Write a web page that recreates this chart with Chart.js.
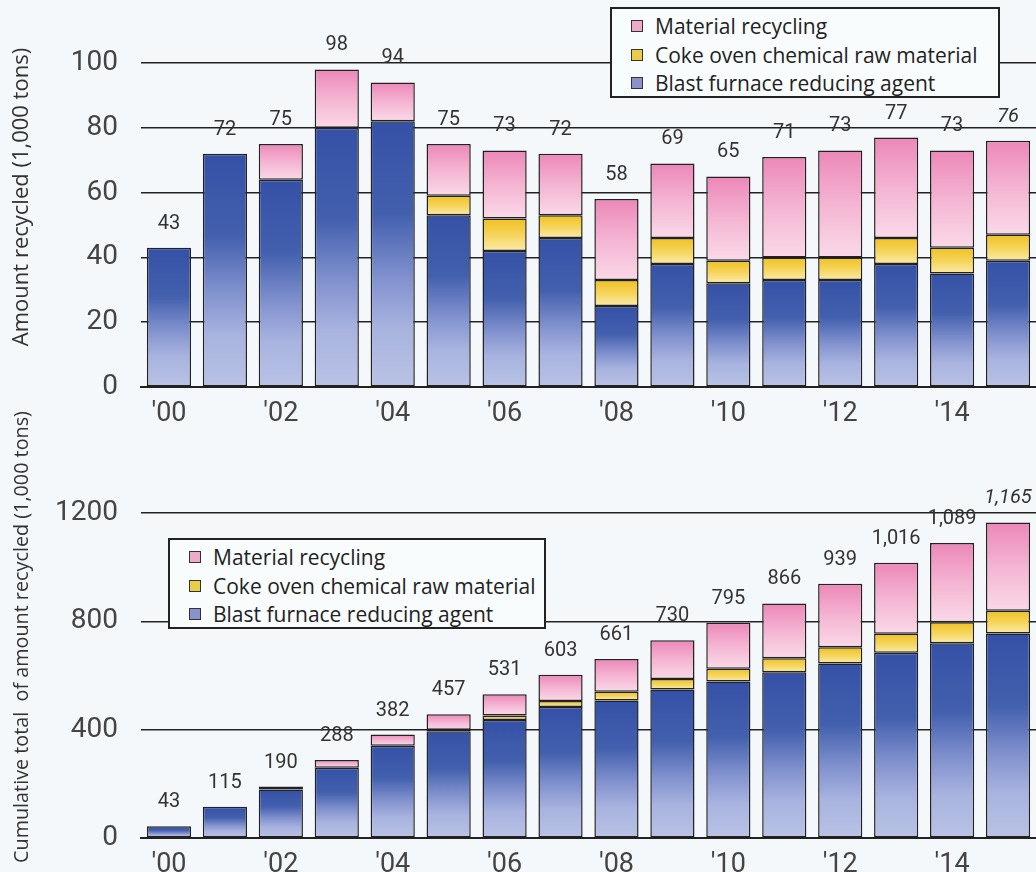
<!DOCTYPE html>
<html>
<head>
<meta charset="utf-8">
<script src="https://cdn.jsdelivr.net/npm/chart.js@4/dist/chart.umd.min.js"></script>
<style>
  body { margin: 0; background: #f4f8fb; width: 1036px; height: 872px; position: relative; overflow: hidden; }
  .wrap { position: absolute; left: 0; width: 1036px; }
  #topWrap { top: 0; height: 440px; }
  #botWrap { top: 400px; height: 479px; }
  .legend { position: absolute; z-index: 5; box-sizing: border-box; border: 2px solid #222; background: #f9fcfd;
            font-family: 'Open Sans', sans-serif; font-size: 21px; color: #222; padding-top: 3px; }
  .legend .row { height: 28.5px; display: flex; align-items: center; }
  .legend .box { width: 10px; height: 10px; border: 1.5px solid #333; margin-right: 12px; flex: none; }
</style>
</head>
<body>
<div class="wrap" id="botWrap"><canvas id="cumChart"></canvas></div>
<div class="wrap" id="topWrap"><canvas id="yearChart"></canvas></div>
<div class="legend" id="topLegend" style="left:610px;top:7px;width:390px;height:91px;padding-left:19px"></div>
<div class="legend" id="botLegend" style="left:168px;top:538px;width:378px;height:91px;padding-left:19px"></div>
<script>
// 年份
const years = ["'00", "'01", "'02", "'03", "'04", "'05", "'06", "'07", "'08", "'09", "'10", "'11", "'12", "'13", "'14", "'15"];

// 各年回收量 (1,000 t)
const blastYear    = [43, 72, 64, 80, 82, 53, 42, 46, 25, 38, 32, 33, 33, 38, 35, 39];
const cokeYear     = [0, 0, 0, 0, 0, 6, 10, 7, 8, 8, 7, 7, 7, 8, 8, 8];
const materialYear = [0, 0, 11, 18, 12, 16, 21, 19, 25, 23, 26, 31, 33, 31, 30, 29];
const yearTotals   = ['43', '72', '75', '98', '94', '75', '73', '72', '58', '69', '65', '71', '73', '77', '73', '76'];

// 累计回收量 (1,000 t)
const blastCum    = [43, 115, 179, 259, 341, 394, 436, 484, 508, 548, 578, 612, 644, 684, 719, 755];
const cokeCum     = [0, 0, 0, 0, 0, 6, 16, 22, 32, 39, 47, 52, 60, 70, 78, 84];
const materialCum = [0, 0, 11, 29, 41, 57, 79, 97, 121, 143, 170, 202, 235, 262, 292, 326];
const cumTotals   = ['43', '115', '190', '288', '382', '457', '531', '603', '661', '730', '795', '866', '939', '1,016', '1,089', '1,165'];

const seriesNames = ['Blast furnace reducing agent', 'Coke oven chemical raw material', 'Material recycling'];
const yearTitle = 'Amount recycled (1,000 tons)';
const cumTitle = 'Cumulative total  of amount recycled (1,000 tons)';

const blueStops   = [[0, '#3451a7'], [0.35, '#4360ae'], [0.6, '#8393cf'], [0.78, '#a8b3df'], [1, '#b9c3e6']];
const yellowStops = [[0, '#f1c020'], [0.5, '#f5d45a'], [1, '#fbeaa8']];
const pinkStops   = [[0, '#ec87b8'], [0.5, '#f4b4d2'], [1, '#fad9e8']];
const swatch = ['#8a92cc', '#e9cc4a', '#eeaacb'];

// 每段柱子单独渐变
function segFill(stops) {
  return (c) => {
    const chart = c.chart;
    if (!chart.chartArea || c.type !== 'data' || !chart.scales.y) return stops[0][1];
    const ds = chart.data.datasets;
    let base = 0;
    for (let k = 0; k < c.datasetIndex; k++) base += ds[k].data[c.dataIndex];
    const v = ds[c.datasetIndex].data[c.dataIndex];
    const y = chart.scales.y;
    const top = y.getPixelForValue(base + v);
    const bot = y.getPixelForValue(base);
    if (!isFinite(top) || bot - top < 1) return stops[0][1];
    const g = chart.ctx.createLinearGradient(0, top, 0, bot);
    stops.forEach(s => g.addColorStop(s[0], s[1]));
    return g;
  };
}

// 顶部合计标签 + 纵轴标题
const extrasPlugin = {
  id: 'extras',
  afterDatasetsDraw(chart, args, opts) {
    const ctx = chart.ctx;
    const y = chart.scales.y, x = chart.scales.x;
    const ds = chart.data.datasets;
    ctx.save();
    ctx.fillStyle = '#333';
    ctx.textAlign = 'center';
    ctx.textBaseline = 'middle';
    opts.labels.forEach((lab, i) => {
      let sum = 0;
      ds.forEach(d => sum += d.data[i]);
      const last = i === opts.labels.length - 1;
      ctx.font = (last ? 'italic ' : '') + '20px Roboto';
      ctx.fillText(lab, x.getPixelForValue(i), y.getPixelForValue(sum) - 24);
    });
    ctx.translate(opts.titleX, opts.titleY);
    ctx.rotate(-Math.PI / 2);
    ctx.font = opts.titleSize + 'px "Open Sans"';
    ctx.fillText(opts.title, 0, 0);
    ctx.restore();
  }
};

function createStackChart(id, blast, coke, material, labels, max, step, padTop, xHeight, title, titleY, titleSize) {
  const ctx = document.getElementById(id).getContext('2d');
  const bw = c => (c.raw ? 1.5 : 0);
  return new Chart(ctx, {
    type: 'bar',
    data: {
      labels: years,
      datasets: [
        { label: seriesNames[0], data: blast, backgroundColor: segFill(blueStops) },
        { label: seriesNames[1], data: coke, backgroundColor: segFill(yellowStops) },
        { label: seriesNames[2], data: material, backgroundColor: segFill(pinkStops) }
      ].map(d => Object.assign(d, {
        borderColor: '#222', borderWidth: bw, borderSkipped: false,
        barPercentage: 0.79, categoryPercentage: 1
      }))
    },
    options: {
      responsive: true,
      maintainAspectRatio: false,
      animation: false,
      layout: { padding: { top: padTop, right: 0, left: 0, bottom: 0 } },
      scales: {
        x: {
          stacked: true,
          grid: { display: false },
          border: { display: true, color: '#222', width: 2 },
          afterFit: s => { s.height = xHeight; },
          ticks: {
            autoSkip: false, maxRotation: 0, padding: 3, color: '#444',
            font: { family: 'Roboto', size: 27 },
            callback: function (v, i) { return i % 2 === 0 ? years[i] : ''; }
          }
        },
        y: {
          stacked: true,
          min: 0, max: max,
          afterFit: s => { s.width = 141; },
          border: { display: false },
          grid: { color: '#222', lineWidth: 1.6, drawTicks: false },
          ticks: {
            stepSize: step, padding: 23, color: '#444',
            font: { family: 'Roboto', size: 28 },
            callback: v => String(v)
          }
        }
      },
      plugins: {
        legend: { display: false },
        tooltip: { enabled: false },
        extras: { labels: labels, title: title, titleX: 22, titleY: titleY, titleSize: titleSize }
      }
    },
    plugins: [extrasPlugin]
  });
}

function buildLegend(el, chart) {
  const ds = chart.data.datasets.slice().reverse();
  const cols = swatch.slice().reverse();
  ds.forEach((d, i) => {
    const row = document.createElement('div');
    row.className = 'row';
    const box = document.createElement('span');
    box.className = 'box';
    box.style.background = cols[i];
    row.appendChild(box);
    row.appendChild(document.createTextNode(d.label));
    el.appendChild(row);
  });
}

const yearChart = createStackChart('yearChart', blastYear, cokeYear, materialYear, yearTotals, 100, 20, 63, 53, yearTitle, 197, 22);
const cumChart = createStackChart('cumChart', blastCum, cokeCum, materialCum, cumTotals, 1200, 400, 113, 41, cumTitle, 237, 19.8);
buildLegend(document.getElementById('topLegend'), yearChart);
buildLegend(document.getElementById('botLegend'), cumChart);
</script>
</body>
</html>
